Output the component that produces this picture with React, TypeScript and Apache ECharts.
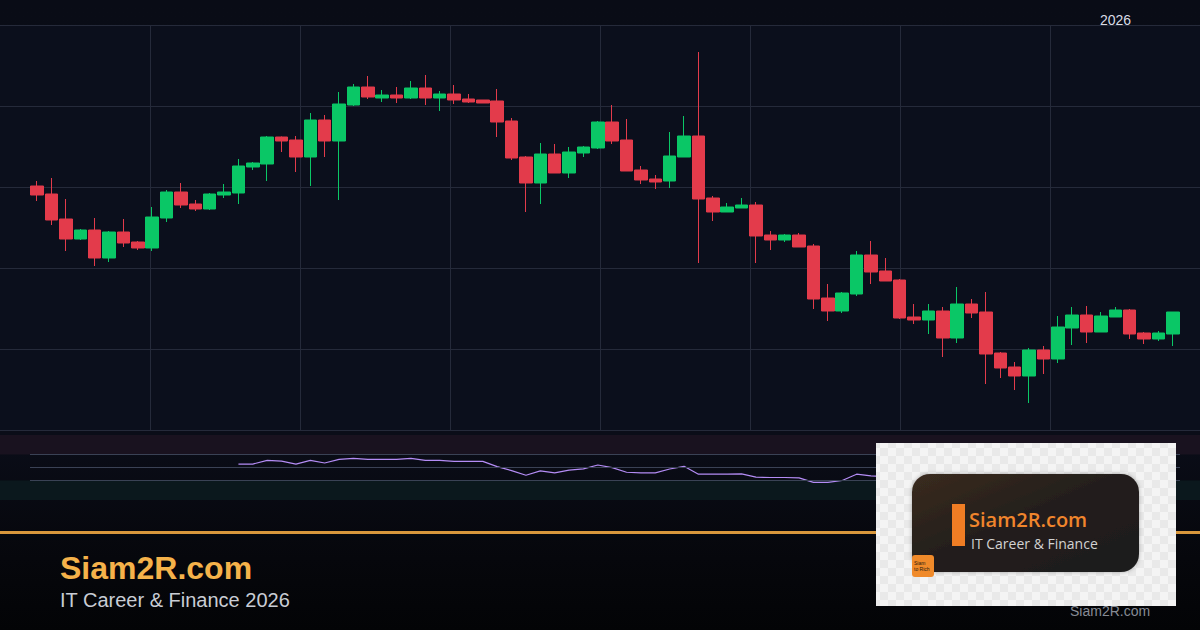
import React, { useEffect, useRef } from "react";
import * as echarts from "echarts";

const opens = [124.4,123.6,121.1,119.1,120.0,117.2,119.8,118.8,118.2,121.2,
123.8,122.6,122.1,123.5,123.7,126.3,126.6,129.3,129.0,127.3,
131.0,128.9,132.5,134.3,133.2,133.5,133.2,134.2,133.2,133.6,
133.1,133.0,132.9,130.9,127.3,124.7,127.6,125.7,127.7,128.2,
130.8,129.0,126.0,125.1,124.9,127.3,129.4,123.2,121.8,122.2,
122.5,119.5,119.0,119.5,118.4,113.2,111.9,113.6,117.5,115.9,
115.0,111.3,111.0,111.9,109.2,112.6,111.8,107.7,106.3,105.4,
108.0,107.1,110.2,111.5,109.8,111.3,112.0,109.7,109.1,109.6];

const closes = [123.5,121.0,119.1,120.0,117.2,119.8,118.7,118.2,121.3,123.8,
122.5,122.1,123.6,123.8,126.4,126.7,129.3,128.9,127.3,131.0,
128.9,132.6,134.3,133.3,133.5,133.2,134.2,133.2,133.6,133.0,
132.8,132.7,130.8,127.2,124.7,127.6,125.7,127.8,128.3,130.8,
128.9,125.9,125.0,124.8,127.4,129.4,123.1,121.8,122.3,122.5,
119.4,119.0,119.5,118.3,113.1,111.9,113.7,117.5,115.8,114.9,
111.2,111.0,111.9,109.2,112.6,111.7,107.6,106.2,105.4,108.0,
107.1,110.3,111.5,109.8,111.4,112.0,109.6,109.1,109.7,111.8];

const lows = [122.9,120.5,117.9,119.0,116.4,116.8,118.3,118.0,117.9,120.8,
122.2,121.9,122.0,123.2,122.6,126.0,124.9,127.8,125.8,124.4,
127.3,123.0,132.4,133.1,132.8,132.7,133.1,132.5,131.9,132.6,
132.7,132.7,129.3,127.0,121.8,122.6,125.7,125.2,127.3,128.1,
128.6,125.9,124.6,124.1,124.2,127.3,116.7,120.9,121.8,122.2,
116.7,118.0,118.8,118.3,112.1,110.9,111.7,113.4,114.6,114.9,
111.1,110.6,109.6,107.3,108.7,111.2,104.6,105.2,104.0,102.7,
105.6,106.7,108.5,108.7,109.8,111.3,109.1,108.6,108.9,108.4];

const highs = [124.9,125.2,123.1,120.1,121.2,119.9,121.1,118.9,122.3,124.0,
124.7,123.0,123.7,124.6,127.1,126.8,129.4,129.35,129.4,131.7,
131.5,133.8,134.6,135.4,134.0,134.3,134.9,135.5,133.9,134.5,
133.6,133.0,134.1,131.2,127.4,128.7,128.6,128.3,128.4,130.9,
132.5,131.1,126.4,125.5,129.8,131.4,137.8,123.4,122.7,123.2,
122.8,119.9,119.6,119.7,118.6,114.6,113.8,117.9,118.9,117.2,
115.1,112.6,112.6,112.3,114.3,113.1,113.8,107.8,106.8,108.2,
108.4,111.4,112.3,112.4,111.8,112.3,112.1,109.8,109.9,111.8];

const rsi = [null,null,null,null,null,null,null,null,null,null,
null,null,null,null,55.3,55.3,61,59.9,55.3,61,
56.9,62.5,64,62.5,62.5,62.5,64,61,61,59.5,
59.5,59.5,51.4,45.3,38.1,44.7,41.7,46,47.8,53.8,
49.8,42.7,41.7,41.7,47.7,51.8,39.7,39.7,39.7,40.1,
35.1,34.6,34.6,34.1,27.1,27.1,30,39.7,37.1,36,
31,31,33,30,38,37,31,29,28,36,
35,43,46,42,46,47,41,40,42,48];

const categories = opens.map((_, i) => "D" + (i + 1));
const rsiLevels = [70, 50, 30];
const yearLabel = "2026";
const brandTitle = "Siam2R.com";
const brandSub = "IT Career & Finance 2026";
const logoSub = "IT Career & Finance";

const FONT = "'Liberation Sans', Arial, sans-serif";
const LOGO_FONT = "'Open Sans', 'Liberation Sans', sans-serif";
const UP = "#0ac766";
const DOWN = "#e33b4b";
const GRID = "#252a3a";

export default function App() {
  const ref = useRef<HTMLDivElement>(null);
  useEffect(() => {
    if (!ref.current) return;
    const chart = echarts.init(ref.current, undefined, { renderer: "svg" });

    const cv = document.createElement("canvas");
    cv.width = 16;
    cv.height = 16;
    const cx = cv.getContext("2d");
    if (cx) {
      cx.fillStyle = "#f4f4f4";
      cx.fillRect(0, 0, 16, 16);
      cx.fillStyle = "#e9e9e9";
      cx.fillRect(0, 0, 8, 8);
      cx.fillRect(8, 8, 8, 8);
    }

    const candleData = opens.map((o, i) => [o, closes[i], lows[i], highs[i]]);
    const rsiData = rsi.map((v, i) => [i, v]);
    const xMin = -37.19 / 14.375;
    const xMax = xMin + 1200 / 14.375;
    const Z = 100;

    const option: any = {
      animation: false,
      backgroundColor: "transparent",
      grid: [
        { left: 0, right: 0, top: 25, height: 405, show: true, backgroundColor: "#0b0f1c", borderWidth: 0 },
        { left: 30, right: 20, top: 25, height: 405 },
        { left: 0, right: 0, top: 435, height: 65 },
      ],
      xAxis: [
        {
          gridIndex: 0, type: "value", min: 0, max: 8, interval: 1,
          axisLine: { show: false }, axisTick: { show: false }, axisLabel: { show: false },
          splitLine: { show: true, showMinLine: false, showMaxLine: false, lineStyle: { color: GRID, width: 1 } },
        },
        {
          gridIndex: 1, type: "category", data: categories, boundaryGap: true,
          axisLine: { show: false }, axisTick: { show: false }, axisLabel: { show: false },
          splitLine: { show: false },
        },
        {
          gridIndex: 2, type: "value", min: xMin, max: xMax,
          axisLine: { show: false }, axisTick: { show: false }, axisLabel: { show: false },
          splitLine: { show: false },
        },
      ],
      yAxis: [
        {
          gridIndex: 0, type: "value", min: 0, max: 5, interval: 1,
          axisLine: { show: false }, axisTick: { show: false }, axisLabel: { show: false },
          splitLine: { show: true, lineStyle: { color: GRID, width: 1 } },
        },
        {
          gridIndex: 1, type: "value", min: 100, max: 140.5, scale: true,
          axisLine: { show: false }, axisTick: { show: false }, axisLabel: { show: false },
          splitLine: { show: false },
        },
        {
          gridIndex: 2, type: "value", min: 0, max: 100,
          axisLine: { show: false }, axisTick: { show: false }, axisLabel: { show: false },
          splitLine: { show: false },
        },
      ],
      series: [
        {
          type: "candlestick",
          xAxisIndex: 1,
          yAxisIndex: 1,
          data: candleData,
          barWidth: 13,
          itemStyle: {
            color: UP, color0: DOWN, borderColor: UP, borderColor0: DOWN, borderWidth: 1,
          },
        },
        {
          type: "line",
          xAxisIndex: 2,
          yAxisIndex: 2,
          data: rsiData,
          showSymbol: false,
          connectNulls: false,
          lineStyle: { color: "#b48cf5", width: 1.2 },
          z: 3,
          markArea: {
            silent: true,
            data: [
              [{ yAxis: 70, itemStyle: { color: "#19121f" } }, { yAxis: 100 }],
              [{ yAxis: 0, itemStyle: { color: "#0b181d" } }, { yAxis: 30 }],
            ],
          },
          markLine: {
            silent: true,
            symbol: ["none", "none"],
            label: { show: false },
            lineStyle: { color: "#3a4255", width: 1, type: "solid" },
            data: rsiLevels.map((lv) => [
              { coord: [-0.5, lv] },
              { coord: [categories.length - 0.5, lv] },
            ]),
          },
        },
      ],
      graphic: [
        {
          type: "text", z: Z,
          style: { text: yearLabel, x: 1100, y: 20, fill: "#d9dde6", font: `14px ${FONT}`, textVerticalAlign: "middle" },
        },
        {
          type: "rect", z: Z,
          shape: { x: 0, y: 531, width: 1200, height: 3 },
          style: { fill: "#d9973c" },
        },
        {
          type: "text", z: Z,
          style: { text: brandTitle, x: 60, y: 568, fill: "#f5b24a", font: `bold 32px ${FONT}`, textVerticalAlign: "middle" },
        },
        {
          type: "text", z: Z,
          style: { text: brandSub, x: 60, y: 600, fill: "#c9cdd5", font: `20px ${FONT}`, textVerticalAlign: "middle" },
        },
        {
          type: "rect", z: Z + 1,
          shape: { x: 876, y: 443, width: 300, height: 163 },
          style: { fill: { image: cv, repeat: "repeat" } as any },
        },
        {
          type: "rect", z: Z + 2,
          shape: { x: 912, y: 474, width: 227, height: 98, r: 18 },
          style: {
            fill: new echarts.graphic.LinearGradient(0, 0, 1, 1, [
              { offset: 0, color: "#3a2b20" },
              { offset: 0.45, color: "#241f1c" },
              { offset: 1, color: "#1c1c1c" },
            ]),
            shadowBlur: 4,
            shadowColor: "rgba(0,0,0,0.3)",
          },
        },
        {
          type: "rect", z: Z + 3,
          shape: { x: 952, y: 504, width: 13, height: 42 },
          style: { fill: "#f07d24" },
        },
        {
          type: "text", z: Z + 3,
          style: { text: brandTitle, x: 969, y: 519, fill: "#f0852c", font: `600 20px ${LOGO_FONT}`, textVerticalAlign: "middle" },
        },
        {
          type: "text", z: Z + 3,
          style: { text: logoSub, x: 971, y: 543, fill: "#d2d2d2", font: `14px ${LOGO_FONT}`, textVerticalAlign: "middle" },
        },
        {
          type: "rect", z: Z + 3,
          shape: { x: 912, y: 555, width: 22, height: 22, r: 3 },
          style: { fill: "#f08a2a" },
        },
        {
          type: "text", z: Z + 4,
          style: { text: "Siam\nto Rich", x: 914, y: 566, fill: "#2a1a10", font: `5px ${FONT}`, textVerticalAlign: "middle", lineHeight: 6 },
        },
        {
          type: "text", z: Z,
          style: { text: brandTitle, x: 1070, y: 611, fill: "#868b95", font: `14px ${FONT}`, textVerticalAlign: "middle" },
        },
      ],
    };
    chart.setOption(option);
    return () => chart.dispose();
  }, []);

  return (
    <div
      style={{
        position: "fixed",
        left: 0,
        top: 0,
        width: 1200,
        height: 630,
        background: "linear-gradient(180deg, #090c16 0%, #0a0d18 70%, #07080e 85%, #030406 100%)",
      }}
    >
      <div ref={ref} style={{ width: 1200, height: 630 }} />
    </div>
  );
}
